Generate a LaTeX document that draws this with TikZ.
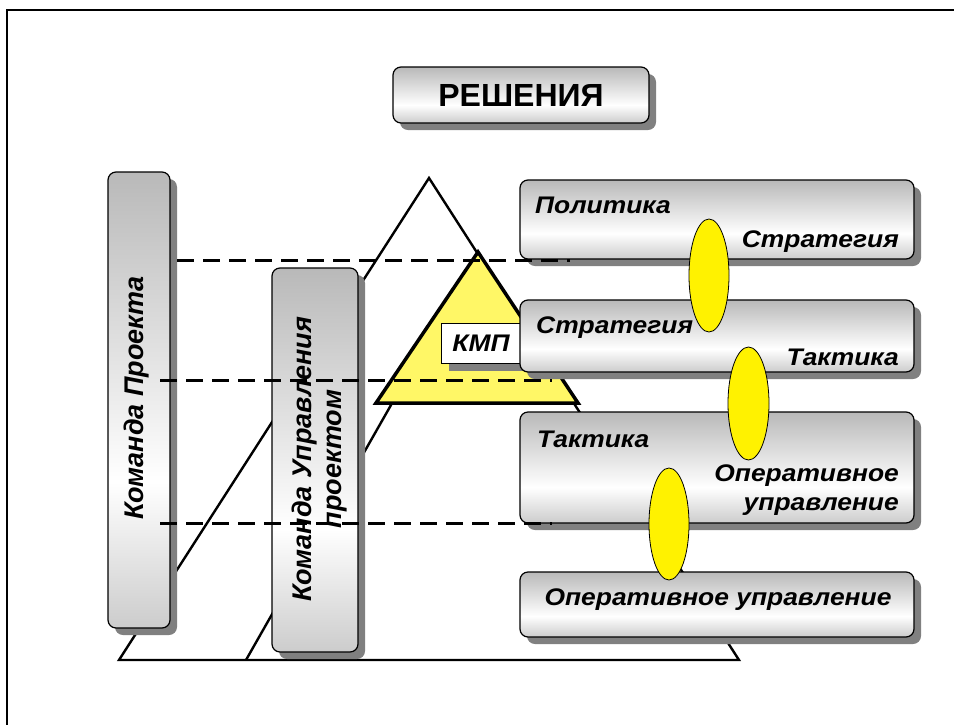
\documentclass[tikz,border=0pt]{standalone}
\usepackage{fontspec}
\setmainfont{Liberation Sans}
\newfontfamily\lblfont{Liberation Sans}[FakeStretch=1.1]
\usetikzlibrary{shadows,shapes.geometric}
\pgfdeclareverticalshading{boxshade}{100bp}{color(0bp)=(gray!40); color(25bp)=(gray!40); color(41bp)=(white); color(75bp)=(gray!55); color(100bp)=(gray!55)}
\begin{document}
\begin{tikzpicture}[x=1pt,y=-1pt,
  shbox/.style={draw=black, line width=1.2pt, rounded corners=8pt,
    shading=boxshade,
    drop shadow={shadow xshift=7pt, shadow yshift=-7pt, fill=gray, opacity=1},
    inner sep=0pt},
  kmpbox/.style={draw=black, line width=1pt, fill=white,
    drop shadow={shadow xshift=8pt, shadow yshift=-8pt, fill=gray, opacity=1},
    minimum width=80pt, minimum height=40pt, inner sep=0pt,
    font=\lblfont\fontsize{24}{28}\selectfont\bfseries\itshape},
  lbl/.style={font=\lblfont\fontsize{24}{28}\selectfont\bfseries\itshape, inner sep=0pt},
  vlbl/.style={font=\fontsize{27}{30}\selectfont\bfseries\itshape, inner sep=0pt, rotate=90, align=center},
  oval/.style={ellipse, draw=black, line width=0.8pt, fill=yellow, inner sep=0pt},
  tri/.style={draw=black, line width=2.4pt, line join=miter},
  levelline/.style={draw=black, line width=3pt, dash pattern=on 17pt off 9pt}
]
\useasboundingbox (0,0) rectangle (954,724);
\clip (0,0) rectangle (954,724);
\fill[white] (0,0) rectangle (954,724);
\draw[line width=2pt] (7,10) rectangle (980,760);

% pyramid
\draw[tri] (119,660) -- (429,178) -- (739,660) -- cycle;
\coordinate (ib) at (246,660);
\coordinate (ia) at (478,252);
\draw[tri] (ib) -- (ia);

% title
\node[shbox, minimum width=256pt, minimum height=56pt,
  font=\fontsize{32}{36}\selectfont\bfseries] (title) at (521,95) {РЕШЕНИЯ};

% vertical team boxes
\node[shbox, minimum width=62pt, minimum height=456pt] (team1) at (139,400) {};
\node[vlbl] (team1t) at (137,398) {Команда Проекта};
\node[shbox, minimum width=86pt, minimum height=384pt] (team2) at (315,460) {};
\node[vlbl] (team2t) at (320,459) {Команда Управления\\проектом};

% KMP triangle
\draw[draw=black, line width=3.5pt, fill=yellow!60, line join=miter] (376,403) -- (ia) -- (578,403) -- cycle;
\node[kmpbox] (kmp) at (481,343) {КМП};

% right boxes
\node[shbox, minimum width=394pt, minimum height=79pt] (boxA) at (717,219.5) {};
\node[shbox, minimum width=394pt, minimum height=72pt] (boxB) at (717,336) {};
\node[shbox, minimum width=394pt, minimum height=111pt] (boxC) at (717,467.5) {};
\node[shbox, minimum width=394pt, minimum height=65pt] (boxD) at (717,604.5) {};

\node[lbl, anchor=base west] (a1) at (535,213) {Политика};
\node[lbl, anchor=base east] (a2) at (899,247) {Стратегия};
\node[lbl, anchor=base west] (b1) at (536,333) {Стратегия};
\node[lbl, anchor=base east] (b2) at (899,365) {Тактика};
\node[lbl, anchor=base west] (c1) at (537,447) {Тактика};
\node[lbl, anchor=base east] (c2) at (899,481) {Оперативное};
\node[lbl, anchor=base east] (c3) at (899,510) {управление};
\node[lbl, anchor=base] (d1) at (718,605) {Оперативное управление};

% dashed levels
\coordinate (l1s) at (177,260); \coordinate (l1e) at (570,260);
\coordinate (l2s) at (160,380); \coordinate (l2e) at (552,380);
\coordinate (l3s) at (160,523); \coordinate (l3e) at (552,523);
\draw[levelline] (l1s) -- (l1e);
\draw[levelline] (l2s) -- (l2e);
\draw[levelline] (l3s) -- (l3e);

% links
\node[oval, minimum width=40pt, minimum height=113pt] (e1) at (709,275.5) {};
\node[oval, minimum width=41pt, minimum height=113pt] (e2) at (748.5,403.5) {};
\node[oval, minimum width=40pt, minimum height=112pt] (e3) at (669,524) {};
\end{tikzpicture}
\end{document}
